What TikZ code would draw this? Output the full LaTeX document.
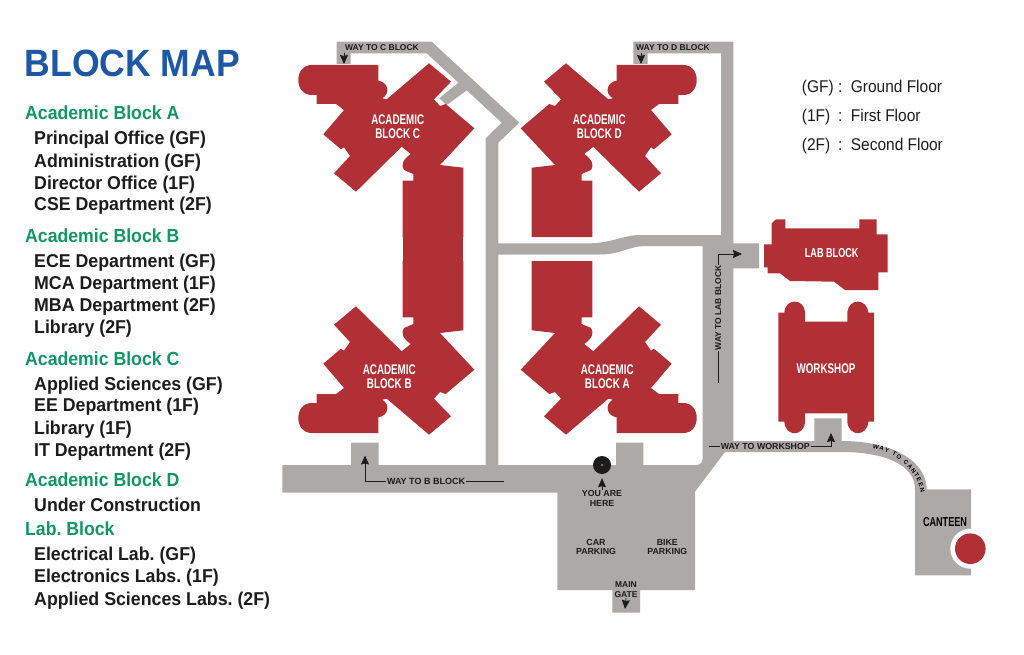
\documentclass[tikz,border=0pt]{standalone}
\usepackage{fontspec}
\setmainfont{Liberation Sans}
\newfontfamily\listfont[FakeStretch=0.955]{Liberation Sans Bold}
\newfontfamily\headfont[FakeStretch=0.93]{Liberation Sans Bold}
\newfontfamily\legendfont[FakeStretch=0.91]{Liberation Sans}
\newfontfamily\signfont[FakeStretch=0.7]{Liberation Sans Bold}
\newfontfamily\wayfont{Liberation Sans Bold}
\newfontfamily\titlefont[FakeStretch=0.935]{Liberation Sans Bold}
\usetikzlibrary{arrows.meta,decorations.text}
\definecolor{blockred}{RGB}{176,48,53}
\definecolor{roadgrey}{RGB}{172,169,166}
\definecolor{titleblue}{RGB}{30,88,164}
\definecolor{headgreen}{RGB}{18,150,100}
\definecolor{inkblack}{RGB}{28,28,28}
\frenchspacing
\tikzset{
  waytext/.style={font=\wayfont\fontsize{8.5}{9.5}\selectfont,text=inkblack,inner sep=0.5pt,align=center},
  wayarrow/.style={draw=inkblack,line width=0.7pt,-{Stealth[length=9pt,width=8pt,inset=1pt]}},
  wayline/.style={draw=inkblack,line width=0.7pt},
  blocktext/.style={font=\signfont\fontsize{14}{14}\selectfont,text=white,align=center,inner sep=0pt},
  legendtext/.style={font=\legendfont\fontsize{17}{17}\selectfont,text=inkblack,anchor=base west,inner sep=0pt},
}
\def\headnode{\node[font=\headfont\fontsize{19}{19}\selectfont,text=headgreen,anchor=base west,inner sep=0pt]}
\def\itemnode{\node[font=\listfont\fontsize{18.6}{18.6}\selectfont,text=inkblack,anchor=base west,inner sep=0pt]}
\def\roadfill{\fill[color=roadgrey]}
\def\wingfill{\fill[color=blockred] (311.7,65) -- (378.3,65) -- (378.3,80.7)
  .. controls (388,82) and (391,93) .. (382.3,98.3) -- (386.7,99.3) -- (429,63.3) -- (451,81.7)
  -- (434,99.3) -- (440,106) -- (445.7,104) -- (474.3,128.3) -- (440,165) -- (463.3,167.7)
  -- (463.3,237) -- (402.7,237) -- (402.7,180.7) -- (413.3,180.7) -- (413.3,174) -- (404,170)
  .. controls (401,166) and (402,160) .. (410.7,154) -- (401.7,146.7) -- (356,191.7)
  -- (334,173.3) -- (350,156) -- (344,147.3) -- (341,149.3) -- (323.3,134.3) -- (344,110)
  -- (336,104) -- (316.7,104) -- (316.7,95) -- (311.7,95)
  .. controls (303,95) and (298.3,88) .. (298.3,80)
  .. controls (298.3,72) and (303,65) .. (311.7,65) -- cycle;}

\begin{document}
\begin{tikzpicture}[x=1pt,y=-1pt]
\useasboundingbox (0,0) rectangle (1024,655);

\roadfill (336.7,41.7) -- (431.7,41.7) -- (519.3,122.7) -- (498.3,142.7) -- (498.3,470)
  -- (485.7,470) -- (485.7,138.3) -- (501.7,122.7) -- (426.7,53.3) -- (350.7,53.3)
  -- (350.7,64) -- (336.7,64) -- cycle;
\roadfill (461.7,80) -- (439.3,98.3) -- (446.7,105) -- (470,88) -- cycle;
\roadfill (633.3,41.7) -- (733.3,41.7) -- (733.3,243.3) -- (759,243.3) -- (759,268.3)
  -- (733.3,268.3) -- (733.3,441) -- (814.3,441) -- (814.3,418.3) -- (841.7,418.3)
  -- (841.7,441) .. controls (890,441) and (926.7,460) .. (926.7,489.3) -- (971,489.3)
  -- (971,575.3) -- (915,575.3) -- (915,489.3) .. controls (915,465) and (885,452) .. (841.7,452)
  -- (725,452) -- (695,491.7) -- (695,590) -- (640,590) -- (640,612.7) -- (612.3,612.7)
  -- (612.3,590) -- (557.3,590) -- (557.3,492.7) -- (282.3,492.7) -- (282.3,465) -- (351,465)
  -- (351,442.7) -- (378.7,442.7) -- (378.7,465) -- (616,465) -- (616,442.7) -- (643.3,442.7)
  -- (643.3,465) -- (696,465) .. controls (701,465) and (702.7,462) .. (702.7,457)
  -- (702.7,246) -- (645,246) .. controls (630,246) and (620,254.5) .. (600,254.5)
  -- (490,254.5) -- (490,243.3) -- (590,243.3) .. controls (610,243.3) and (625,235) .. (639,235)
  -- (721,235) -- (721,53.3) -- (647.7,53.3) -- (647.7,64) -- (633.3,64) -- cycle;

\wingfill
\begin{scope}[shift={(995,0)},xscale=-1]\wingfill\end{scope}
\begin{scope}[shift={(0,498)},yscale=-1]\wingfill\end{scope}
\begin{scope}[shift={(995,498)},xscale=-1,yscale=-1]\wingfill\end{scope}
\fill[color=blockred] (402.7,230) rectangle (463.3,268);

\fill[color=blockred] (771.7,223.3) -- (776,219.3) -- (785.3,219.3) -- (785.3,228.3) -- (859.3,228.3)
  -- (859.3,219.3) -- (876.7,219.3) -- (876.7,234.3) -- (887.7,234.3) -- (887.7,272.3)
  -- (878.3,272.3) -- (878.3,290) -- (845,290) -- (834,281.7) -- (790,281) -- (780,273.3)
  -- (767.7,273.3) -- (767.7,267.3) -- (764,267.3) -- (764,244.3) -- (771.7,244.3) -- cycle;
\fill[color=blockred] (778.3,312.7) -- (784.3,312.7) .. controls (785,298) and (804,298) .. (805,312)
  -- (805,321.7) -- (847.3,321.7) -- (847.3,312) .. controls (849,298) and (867,298) .. (868.3,312.7)
  -- (874,312.7) -- (874,421.7) -- (868.3,421.7) .. controls (867,437) and (849,437) .. (847.3,422)
  -- (847.3,413.3) -- (805,413.3) -- (805,422) .. controls (804,437) and (785,437) .. (784.3,421.7)
  -- (778.3,421.7) -- cycle;

\fill[color=white] (970.3,548.7) circle (20);
\fill[color=blockred] (970.3,548.7) circle (15.3);

\node[blocktext] (blockc) at (397.7,127) {ACADEMIC\\BLOCK C};
\node[blocktext] (blockd) at (599.3,127) {ACADEMIC\\BLOCK D};
\node[blocktext] (blockb) at (389.3,376.3) {ACADEMIC\\BLOCK B};
\node[blocktext] (blocka) at (607.3,376.3) {ACADEMIC\\BLOCK A};
\node[blocktext,font=\signfont\fontsize{13}{13}\selectfont] (labblock) at (831.7,252.7) {LAB BLOCK};
\node[blocktext] (workshop) at (826,368.3) {WORKSHOP};
\node[blocktext,text=black,font=\signfont\fontsize{13}{13}\selectfont] (canteen) at (945,521.7) {CANTEEN};

\node[waytext] (wayc) at (382,47.5) {WAY TO C BLOCK};
\coordinate (waycstart) at (344,53);
\coordinate (waycend) at (344,64);
\draw[wayarrow] (waycstart) -- (waycend);
\node[waytext] (wayd) at (673,47.5) {WAY TO D BLOCK};
\coordinate (waydstart) at (641,53);
\coordinate (waydend) at (641,64);
\draw[wayarrow] (waydstart) -- (waydend);

\node[waytext,font=\wayfont\fontsize{9}{9}\selectfont] (wayb) at (426,481.7) {WAY TO B BLOCK};
\coordinate (waybtip) at (365,455.5);
\coordinate (waybend) at (504.3,481.7);
\draw[wayarrow] (wayb.west) -| (waybtip);
\draw[wayline] (wayb.east) -- (waybend);

\node[waytext,rotate=90] (waylab) at (718.3,307.8) {WAY TO LAB BLOCK};
\coordinate (waylabtip) at (742,254);
\coordinate (waylabend) at (718.3,383.3);
\draw[wayarrow] (waylab.east) |- (waylabtip);
\draw[wayline] (waylab.west) -- (waylabend);

\node[waytext,font=\wayfont\fontsize{8.8}{9}\selectfont] (wayshop) at (765.3,446.7) {WAY TO WORKSHOP};
\coordinate (wayshoptip) at (831,433);
\coordinate (wayshopend) at (709.3,446.7);
\draw[wayarrow] (wayshop.east) -| (wayshoptip);
\draw[wayline] (wayshop.west) -- (wayshopend);

\coordinate (waycanstart) at (873,446);
\coordinate (waycanend) at (923,492);
\path[decorate,decoration={text along path,raise=-2.2pt,text align=fit to path,
  text={|\wayfont\fontsize{6}{7}\selectfont|WAY TO CANTEEN}}]
  (waycanstart) .. controls (899,451) and (919,469) .. (waycanend);

\node[circle,fill=inkblack,minimum size=18pt,inner sep=0pt] (youdot) at (602,465) {};
\node[circle,fill=gray,minimum size=2.5pt,inner sep=0pt] (youcentre) at (602,465) {};
\node[waytext,font=\wayfont\fontsize{8.8}{9.5}\selectfont] (youhere) at (602,498.2) {YOU ARE\\HERE};
\draw[wayarrow,shorten >=4pt] (youhere.north) -- (youdot.south);

\node[waytext,font=\wayfont\fontsize{8.8}{9.5}\selectfont] (carpark) at (596,547) {CAR\\PARKING};
\node[waytext,font=\wayfont\fontsize{8.8}{9.5}\selectfont] (bikepark) at (667.3,547) {BIKE\\PARKING};
\node[waytext] (maingate) at (626,589.6) {MAIN\\GATE};
\coordinate (gatetip) at (625,609);
\draw[wayarrow] (maingate.south) -- (gatetip);

\node[font=\titlefont\fontsize{38}{38}\selectfont,text=titleblue,anchor=base west,inner sep=0pt] (blockmap) at (24.5,76.7) {BLOCK MAP};

\headnode (heada) at (25,120) {Academic Block A};
\itemnode (itema1) at (34,145) {Principal Office (GF)};
\itemnode (itema2) at (34,167.3) {Administration (GF)};
\itemnode (itema3) at (34,189.3) {Director Office (1F)};
\itemnode (itema4) at (34,210.7) {CSE Department (2F)};
\headnode (headb) at (25,242.7) {Academic Block B};
\itemnode (itemb1) at (34,267.7) {ECE Department (GF)};
\itemnode (itemb2) at (34,289.7) {MCA Department (1F)};
\itemnode (itemb3) at (34,311.7) {MBA Department (2F)};
\itemnode (itemb4) at (34,333.3) {Library (2F)};
\headnode (headc) at (25,365) {Academic Block C};
\itemnode (itemc1) at (34,390) {Applied Sciences (GF)};
\itemnode (itemc2) at (34,411.3) {EE Department (1F)};
\itemnode (itemc3) at (34,434) {Library (1F)};
\itemnode (itemc4) at (34,456) {IT Department (2F)};
\headnode (headd) at (25,486.7) {Academic Block D};
\itemnode (itemd1) at (34,511.7) {Under Construction};
\headnode (headlab) at (25,535.7) {Lab. Block};
\itemnode (itemlab1) at (34,560.7) {Electrical Lab. (GF)};
\itemnode (itemlab2) at (34,582.7) {Electronics Labs. (1F)};
\itemnode (itemlab3) at (34,605) {Applied Sciences Labs. (2F)};

\node[legendtext] (keygf) at (801.7,92.3) {(GF)};
\node[legendtext] (colongf) at (838,92.3) {:};
\node[legendtext] (namegf) at (850.7,92.3) {Ground Floor};
\node[legendtext] (key1f) at (801.7,121.7) {(1F)};
\node[legendtext] (colon1f) at (838,121.7) {:};
\node[legendtext] (name1f) at (850.7,121.7) {First Floor};
\node[legendtext] (key2f) at (801.7,150.3) {(2F)};
\node[legendtext] (colon2f) at (838,150.3) {:};
\node[legendtext] (name2f) at (850.7,150.3) {Second Floor};
\end{tikzpicture}
\end{document}
